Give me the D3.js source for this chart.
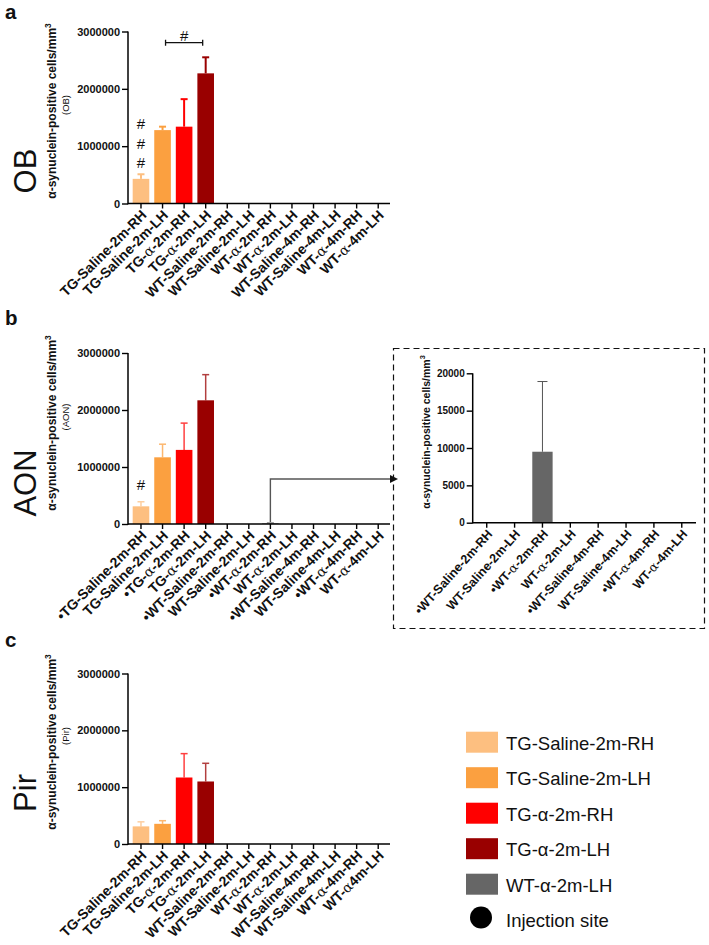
<!DOCTYPE html>
<html><head><meta charset="utf-8">
<script src="https://cdn.jsdelivr.net/npm/d3@7"></script>
<style>body{margin:0;background:#fff}svg{display:block}text{font-family:"Liberation Sans",Arial,sans-serif}</style>
</head><body><svg id="c" width="709" height="945"></svg>
<script>
// ---------- data ----------
const categories = ["TG-Saline-2m-RH","TG-Saline-2m-LH","TG-α-2m-RH","TG-α-2m-LH","WT-Saline-2m-RH","WT-Saline-2m-LH","WT-α-2m-RH","WT-α-2m-LH","WT-Saline-4m-RH","WT-Saline-4m-LH","WT-α-4m-RH","WT-α-4m-LH"];
const labelsA = categories;
const labelsB = ["•TG-Saline-2m-RH","TG-Saline-2m-LH","•TG-α-2m-RH","TG-α-2m-LH","•WT-Saline-2m-RH","WT-Saline-2m-LH","•WT-α-2m-RH","WT-α-2m-LH","•WT-Saline-4m-RH","WT-Saline-4m-LH","•WT-α-4m-RH","WT-α-4m-LH"];
const labelsC = ["TG-Saline-2m-RH","TG-Saline-2m-LH","TG-α-2m-RH","TG-α-2m-LH","WT-Saline-2m-RH","WT-Saline-2m-LH","WT-α-2m-RH","WT-α-2m-LH","WT-Saline-4m-RH","WT-Saline-4m-LH","WT-α-4m-RH","WT-α4m-LH"];
const obValues  = [430000,1280000,1340000,2270000,0,0,0,0,0,0,0,0];
const obSem     = [80000,60000,480000,280000,0,0,0,0,0,0,0,0];
const aonValues = [310000,1170000,1300000,2170000,0,0,9500,0,0,0,0,0];
const aonSem    = [80000,230000,470000,450000,0,0,9400,0,0,0,0,0];
const pirValues = [310000,355000,1170000,1100000,0,0,0,0,0,0,0,0];
const pirSem    = [80000,55000,420000,320000,0,0,0,0,0,0,0,0];
const insetLabels = ["•WT-Saline-2m-RH","WT-Saline-2m-LH","•WT-α-2m-RH","WT-α-2m-LH","•WT-Saline-4m-RH","WT-Saline-4m-LH","•WT-α-4m-RH","WT-α-4m-LH"];
const insetValues = [0,0,9500,0,0,0,0,0];
const insetSem    = [0,0,9400,0,0,0,0,0];
const mainTicks = [0,1000000,2000000,3000000];
const insetTicks = [0,5000,10000,15000,20000];
const barColors = ["#FDBF80","#FBA040","#FF0000","#990000","#666666","#666666","#666666","#666666","#666666","#666666","#666666","#666666"];
const legendLabels = ["TG-Saline-2m-RH","TG-Saline-2m-LH","TG-α-2m-RH","TG-α-2m-LH","WT-α-2m-LH"];
const legendColors = ["#FDBF80","#FBA040","#FF0000","#990000","#666666"];

const svg = d3.select("#c");

function addLabelText(sel, str, altFont){
  const parts = str.split("α");
  parts.forEach((p,i)=>{
    if(i>0){ sel.append("tspan").attr("font-weight", altFont?"normal":null).attr("font-family", altFont?"DejaVu Serif, serif":null).text("α"); }
    if(p) sel.append("tspan").text(p);
  });
}

function panel(o){
  const g = svg.append("g");
  const n = o.values.length;
  const x = d3.scaleBand().domain(d3.range(n)).range([o.bx0,o.bx1]).paddingInner(o.pad).paddingOuter(o.pad/2);
  const y = d3.scaleLinear().domain([0,o.max]).range([o.yBot,o.yTop]);
  g.selectAll("rect.bar").data(o.values).join("rect")
    .attr("x",(d,i)=>x(i)).attr("width",x.bandwidth())
    .attr("y",d=>y(d)).attr("height",d=>o.yBot-y(d))
    .attr("fill",(d,i)=>o.colors[i]);
  o.values.forEach((v,i)=>{
    if(!o.sem[i]) return;
    const cx = x(i)+x.bandwidth()/2, col = o.errColor?o.errColor:o.colors[i];
    const eg = g.append("g").attr("stroke",col).attr("stroke-width",o.errW).attr("opacity",o.errOp);
    eg.append("line").attr("x1",cx).attr("x2",cx).attr("y1",y(v)).attr("y2",y(v+o.sem[i]));
    eg.append("line").attr("x1",cx-o.cap/2).attr("x2",cx+o.cap/2).attr("y1",y(v+o.sem[i])).attr("y2",y(v+o.sem[i]));
  });
  const ya = d3.axisLeft(y).tickValues(o.ticks).tickFormat(d3.format("d")).tickSize(6).tickSizeOuter(0).tickPadding(2);
  const yg = g.append("g").attr("transform",`translate(${o.ax},0)`).call(ya);
  yg.select(".domain").remove();
  yg.selectAll(".tick line").attr("stroke","#000").attr("stroke-width",1.4);
  yg.selectAll(".tick text").attr("font-size",o.tickFs).attr("font-weight","bold").attr("fill","#111").attr("font-family","Liberation Sans, Arial, sans-serif");
  g.append("line").attr("x1",o.ax).attr("x2",o.ax).attr("y1",o.yTop).attr("y2",o.yBot+0.7).attr("stroke","#000").attr("stroke-width",1.5);
  g.append("line").attr("x1",o.ax).attr("x2",o.axEnd).attr("y1",o.yBot).attr("y2",o.yBot).attr("stroke","#000").attr("stroke-width",1.5);
  d3.range(n).forEach(i=>{
    const cx = x(i)+x.bandwidth()/2;
    g.append("line").attr("x1",cx).attr("x2",cx).attr("y1",o.yBot).attr("y2",o.yBot+5).attr("stroke","#000").attr("stroke-width",1.4);
    const t = g.append("text").attr("transform",`translate(${cx+3},${o.yBot+9}) rotate(${o.rot})`)
      .attr("text-anchor","end").attr("dy","0.35em").attr("font-size",o.labelFs).attr("font-weight","bold").attr("fill","#111");
    addLabelText(t,o.labels[i],true);
  });
  const tt = g.append("text").attr("transform",`translate(${o.titleX},${o.titleY}) rotate(-90)`)
    .attr("text-anchor","middle").attr("font-size",o.titleFs).attr("font-weight",o.titleW).attr("fill","#111");
  tt.append("tspan").text("α-synuclein-positive cells/mm");
  tt.append("tspan").attr("font-size",o.titleFs*0.7).attr("dy",-o.titleFs*0.45).text("3");
  if(o.sub){
    g.append("text").attr("transform",`translate(${o.titleX+13},${o.titleY-6}) rotate(-90)`)
      .attr("text-anchor","middle").attr("font-size",9.5).attr("fill","#111").text(o.sub);
  }
  return {x,y,g};
}

const common = {bx0:130.2, bx1:389, pad:0.23, max:3000000, ax:128, axEnd:390, ticks:mainTicks, tickFs:11, labelFs:14, rot:-45, titleFs:12, titleW:"bold", cap:7, colors:barColors};

const A = panel(Object.assign({},common,{values:obValues, sem:obSem, labels:labelsA, yTop:31.5, yBot:203.5, errW:2, errOp:1, titleX:56, titleY:111, sub:"(OB)"}));
const B = panel(Object.assign({},common,{values:aonValues, sem:aonSem, labels:labelsB, yTop:353, yBot:524, errW:1.5, errOp:0.75, titleX:56, titleY:423, sub:"(AON)"}));
const C = panel(Object.assign({},common,{values:pirValues, sem:pirSem, labels:labelsC, yTop:673.5, yBot:844, errW:1.5, errOp:0.75, titleX:56, titleY:742, sub:"(Pir)"}));

function cx(P,i){return P.x(i)+P.x.bandwidth()/2;}
[0,1,2].forEach(k=>{
  A.g.append("text").attr("x",cx(A,0)).attr("y",A.y(obValues[0]+obSem[0])-6-k*19.5).attr("text-anchor","middle").attr("font-size",15).attr("fill","#111").text("#");
});
const bx1 = cx(A,1)+3, bx2 = cx(A,3)-3, byy = 42.7;
A.g.append("path").attr("d",`M${bx1},${byy-3}V${byy+3}M${bx1},${byy}H${bx2}M${bx2},${byy-3}V${byy+3}`).attr("stroke","#111").attr("stroke-width",1.3).attr("fill","none");
A.g.append("text").attr("x",(bx1+bx2)/2).attr("y",byy-2).attr("text-anchor","middle").attr("font-size",15).attr("fill","#111").text("#");
B.g.append("text").attr("x",cx(B,0)).attr("y",B.y(aonValues[0]+aonSem[0])-12).attr("text-anchor","middle").attr("font-size",15).attr("fill","#111").text("#");

[["a",18.5],["b",325],["c",647]].forEach(([t,yy])=>svg.append("text").attr("x",5).attr("y",yy).attr("font-size",20.5).attr("font-weight","bold").attr("fill","#111").text(t));
[["OB",171],["AON",483],["Pir",793]].forEach(([t,yy])=>svg.append("text").attr("transform",`translate(36,${yy}) rotate(-90)`).attr("text-anchor","middle").attr("font-size",31).attr("fill","#111").text(t));

svg.append("rect").attr("x",393.5).attr("y",348.5).attr("width",311).attr("height",280).attr("fill","none").attr("stroke","#111").attr("stroke-width",1.2).attr("stroke-dasharray","6,4");
const arrowY = 479, sx = cx(B,6);
svg.append("path").attr("d",`M${sx},${B.y(aonValues[6]+aonSem[6])-1}V${arrowY}H${391}`).attr("stroke","#555").attr("stroke-width",1.4).attr("fill","none");
svg.append("path").attr("d",`M390,${arrowY-4}L398,${arrowY}L390,${arrowY+4}Z`).attr("fill","#111");

const I = panel({values:insetValues, sem:insetSem, labels:insetLabels, colors:d3.range(8).map(()=> "#666666"),
  bx0:472.8, bx1:695.7, pad:0.27, max:20000, ax:472.7, axEnd:696, ticks:insetTicks, tickFs:10, labelFs:12.5, rot:-48,
  yTop:373.3, yBot:522.7, errW:1, errOp:1, errColor:"#555", cap:10, titleX:430, titleY:432, titleFs:10.5, titleW:"bold", sub:null});

const lg = svg.append("g");
legendLabels.forEach((l,i)=>{
  const yy = 731.7 + i*35.5;
  lg.append("rect").attr("x",466).attr("y",yy).attr("width",32).attr("height",21).attr("fill",legendColors[i]);
  lg.append("text").attr("x",506).attr("y",yy+18).attr("font-size",18.5).attr("fill","#111").text(l);
});
lg.append("circle").attr("cx",481).attr("cy",917.5).attr("r",11).attr("fill","#000");
lg.append("text").attr("x",506).attr("y",927).attr("font-size",18.5).attr("fill","#111").text("Injection site");
</script></body></html>
